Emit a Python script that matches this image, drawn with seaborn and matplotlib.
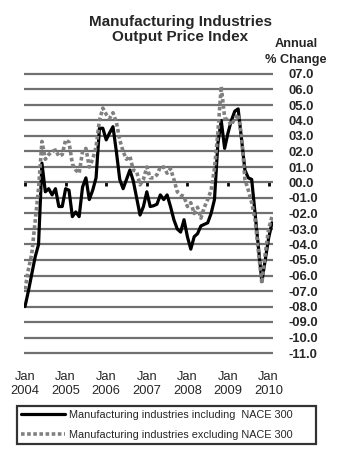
import numpy as np
import pandas as pd
import matplotlib
matplotlib.use("Agg")
import matplotlib.pyplot as plt
import seaborn as sns

# ---- data (monthly, Jan 2004 .. Feb 2010) ----
incl_nace300 = [-8.0, -7.0, -5.9, -4.8, -4.0, 1.25, -0.6, -0.4, -0.8, -0.4, -1.55, -1.55,
                -0.4, -0.5, -2.2, -1.9, -2.2, -0.3, 0.3, -1.1, -0.5, 0.3, 3.5, 3.5,
                2.75, 3.2, 3.6, 2.0, 0.2, -0.4, 0.2, 0.8, 0.1, -1.0, -2.1, -1.55,
                -0.6, -1.55, -1.5, -1.4, -0.8, -1.1, -0.8, -1.55, -2.4, -3.0, -3.2, -2.4,
                -3.5, -4.3, -3.5, -3.3, -2.8, -2.7, -2.6, -2.0, -1.1, 2.5, 4.0, 2.2,
                3.2, 4.0, 4.6, 4.75, 2.8, 0.8, 0.3, 0.2, -2.0, -4.2, -6.4, -5.0,
                -3.6, -2.6]
excl_nace300 = [-6.9, -5.6, -4.6, -2.5, -0.4, 2.65, 1.5, 1.8, 2.0, 2.1, 1.7, 1.8,
                2.75, 2.6, 1.2, 0.8, 0.6, 2.0, 2.2, 1.0, 1.5, 2.3, 4.0, 4.8,
                4.4, 4.15, 4.5, 3.9, 2.75, 2.0, 1.5, 1.7, 0.8, 0.7, -0.15, 0.2,
                1.0, 0.3, 0.3, 0.5, 1.0, 1.0, 0.6, 0.9, 0.2, -0.6, -0.8, -0.9,
                -1.55, -1.3, -2.0, -1.6, -2.3, -1.6, -1.1, -0.5, 0.9, 3.2, 6.2, 4.2,
                4.0, 3.7, 4.15, 4.4, 3.0, 0.2, -0.5, -1.3, -2.4, -4.5, -6.5, -4.6,
                -3.0, -2.2]
series_names = ["Manufacturing industries including  NACE 300",
                "Manufacturing industries excluding NACE 300"]
year_labels = ["Jan\n2004", "Jan\n2005", "Jan\n2006", "Jan\n2007",
               "Jan\n2008", "Jan\n2009", "Jan\n2010"]
y_ticks = list(range(7, -12, -1))

months = np.arange(len(incl_nace300))
df = pd.DataFrame({"month": months, "incl": incl_nace300, "excl": excl_nace300})

sns.set_theme(style="white")
plt.rcParams["font.family"] = ["Liberation Sans", "DejaVu Sans"]

W, H = 339, 461
fig = plt.figure(figsize=(W / 100, H / 100), dpi=100)
ylo, yhi = -11.2, 7.2
ax_top, ax_bot = 70.9, 356.1
ax = fig.add_axes([24 / W, 1 - ax_bot / H, (273 - 24) / W, (ax_bot - ax_top) / H])

sns.lineplot(data=df, x="month", y="incl", ax=ax, color="black", lw=2.3,
             label=series_names[0], zorder=3)
sns.lineplot(data=df, x="month", y="excl", ax=ax, color="#808080", lw=2.6,
             linestyle=(0, (1.0, 0.7)), label=series_names[1], zorder=4)

ax.set_xlim(-0.3, 73.3)
ax.set_ylim(ylo, yhi)
ax.set_xlabel("")
ax.set_ylabel("")
for s in ax.spines.values():
    s.set_visible(False)

# horizontal grid
ax.set_yticks(y_ticks)
ax.set_yticklabels([("%04.1f" % v) if v >= 0 else ("-%04.1f" % abs(v)) for v in y_ticks],
                   fontsize=9.4, fontweight="bold")
ax.yaxis.tick_right()
ax.tick_params(axis="y", length=0, pad=11)
ax.grid(axis="y", color="#707070", lw=1.6)
ax.set_axisbelow(True)

# bottom x labels
ax.set_xticks(np.arange(0, 73, 12))
ax.set_xticklabels(year_labels, fontsize=9.3, linespacing=1.15)
ax.tick_params(axis="x", length=0, pad=11)

# zero axis line with small tick marks
zero_frac = (0 - ylo) / (yhi - ylo)
sec = ax.secondary_xaxis(zero_frac)
sec.set_xticks(np.arange(0, 73, 12))
sec.set_xticklabels([])
sec.tick_params(axis="x", direction="in", length=3, width=2, color="black")
sec.spines["bottom"].set_color("black")
sec.spines["bottom"].set_linewidth(2)
sec.spines["top"].set_visible(False)

# titles
fig.text(180 / W, 1 - 29.5 / H, "Manufacturing Industries\nOutput Price Index",
         ha="center", va="center", fontsize=11, fontweight="bold", linespacing=1.15)
fig.text(296 / W, 1 - 52 / H, "Annual\n% Change", ha="center", va="center",
         fontsize=9.2, fontweight="bold", linespacing=1.35)

# legend
leg = ax.legend(loc="center", bbox_to_anchor=(17 / W, 1 - 449 / H, 299 / W, 48 / H),
                bbox_transform=fig.transFigure, mode="expand", frameon=True,
                fancybox=False, edgecolor="black", fontsize=7.8, handlelength=4.0,
                handletextpad=0.4, labelspacing=0.9, borderaxespad=0)
leg.get_frame().set_linewidth(1.6)

fig.savefig("out.png", dpi=100, facecolor="white")
